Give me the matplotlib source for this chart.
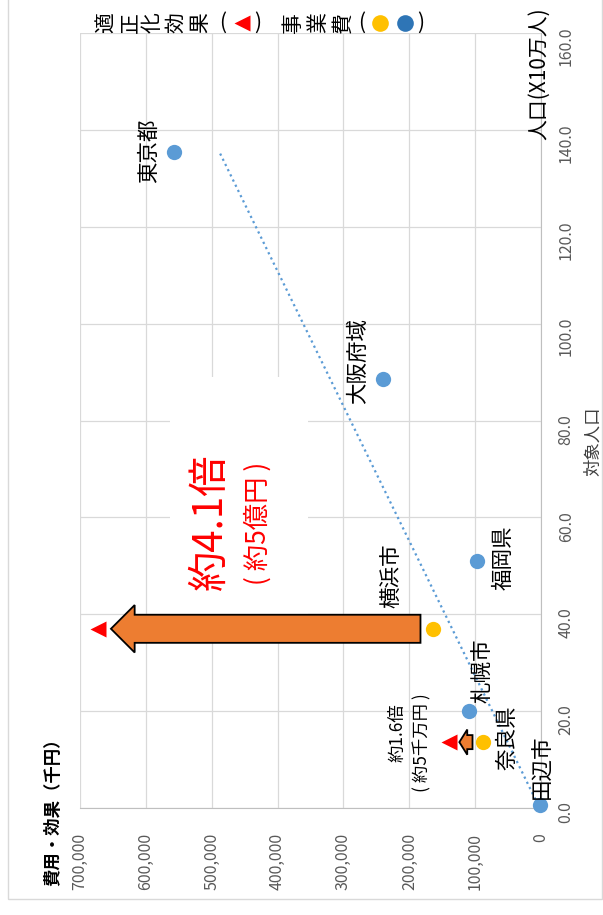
import numpy as np
import matplotlib.pyplot as plt
from matplotlib.patches import FancyArrow, Rectangle
from matplotlib.ticker import FuncFormatter, MultipleLocator

plt.rcParams['font.family'] = ['Noto Sans CJK JP', 'DejaVu Sans']

W, H = 603, 915

# 対象人口(10万人) / 事業費(千円)
blue_names = ['田辺市', '札幌市', '福岡県', '大阪府域', '東京都']
blue_pop = [0.7, 20.0, 51.0, 88.5, 135.5]
blue_cost = [2000, 110000, 97000, 240000, 557000]

yellow_names = ['奈良県', '横浜市']
yellow_pop = [13.6, 37.0]
yellow_cost = [88000, 164000]

# 適正化効果(千円)
effect = [140000, 672000]
ratio_text = ['約1.6倍', '約4.1倍']
saving_text = ['( 約5千万円 )', '( 約5億円 )']

# ラベル位置 (点からのピクセルずれ)
label_offset = {
    '田辺市': (3, 38), '札幌市': (15, 40), '福岡県': (26, 3),
    '大阪府域': (-25, 18), '東京都': (-25, 1),
    '奈良県': (24, 4), '横浜市': (-41, 53),
}


def fx(x):
    return x / W


def fy(y):
    return 1 - y / H


fig = plt.figure(figsize=(W / 100, H / 100), dpi=100)
ax = fig.add_axes([fx(80), fy(808), fx(541) - fx(80), fy(33) - fy(808)])

ax.set_xlim(700000, 0)
ax.set_ylim(0, 160)
ax.xaxis.set_major_locator(MultipleLocator(100000))
ax.yaxis.set_major_locator(MultipleLocator(20))
ax.xaxis.set_major_formatter(FuncFormatter(lambda v, p: f'{v:,.0f}'))
ax.yaxis.set_major_formatter(FuncFormatter(lambda v, p: f'{v:.1f}'))
ax.yaxis.tick_right()
ax.set_axisbelow(True)
ax.grid(True, color='#D9D9D9', lw=0.9)
for s in ['left', 'top']:
    ax.spines[s].set_visible(False)
ax.spines['right'].set_color('#BFBFBF')
ax.spines['bottom'].set_color('#BFBFBF')
ax.tick_params(axis='x', length=0, pad=18, labelrotation=90, labelsize=11.5, labelcolor='#595959')
ax.tick_params(axis='y', length=0, pad=12, labelrotation=90, labelsize=11.5, labelcolor='#595959')

# 近似直線
all_pop = np.array(blue_pop + yellow_pop)
all_cost = np.array(blue_cost + yellow_cost)
k, b = np.polyfit(all_pop, all_cost, 1)
tp = np.array([all_pop.min(), all_pop.max()])
ax.plot(k * tp + b, tp, color='#5B9BD5', lw=1.6, ls=(0, (1, 1.6)), zorder=2)

# 文字の背景
ax.add_patch(Rectangle((fx(170), fy(617)), fx(308) - fx(170), fy(377) - fy(617),
                       transform=fig.transFigure, fc='white', ec='none', zorder=1))

ax.plot(blue_cost, blue_pop, 'o', color='#5B9BD5', ms=11, mec='none', zorder=4, clip_on=False)
ax.plot(yellow_cost, yellow_pop, 'o', color='#FFC000', ms=11, mec='none', zorder=4, clip_on=False)
ax.plot(effect, yellow_pop, '<', color='#FF0000', ms=12, mec='none', zorder=4, clip_on=False)

for names, xs, ys in [(blue_names, blue_cost, blue_pop), (yellow_names, yellow_cost, yellow_pop)]:
    for n, x, y in zip(names, xs, ys):
        ax.annotate(n, (x, y), xytext=label_offset[n], textcoords='offset pixels',
                    rotation=90, ha='center', va='center', fontsize=15.5, zorder=5,
                    annotation_clip=False)

# 矢印 (事業費 → 効果)
arrow_specs = [
    dict(gap=16000, width=2.9, head_width=5.2, head_length=12000),
    dict(gap=19000, width=5.8, head_width=9.8, head_length=36000),
]
for c, e, y, spec in zip(yellow_cost, effect, yellow_pop, arrow_specs):
    tail = c + spec['gap']
    tip = e - spec['gap']
    ax.add_patch(FancyArrow(tail, y, tip - tail, 0, width=spec['width'],
                            head_width=spec['head_width'], head_length=spec['head_length'],
                            length_includes_head=True, fc='#ED7D31', ec='black',
                            lw=1.3, zorder=3))

fig.text(fx(397), fy(733), ratio_text[0], rotation=90, ha='center', va='center', fontsize=12.5)
fig.text(fx(422), fy(743), saving_text[0], rotation=90, ha='center', va='center', fontsize=12.5)
fig.text(fx(210), fy(523), ratio_text[1], rotation=90, ha='center', va='center',
         fontsize=29, color='#FF0000')
fig.text(fx(258), fy(523), saving_text[1], rotation=90, ha='center', va='center',
         fontsize=19, color='#FF0000')

# 軸タイトル
fig.text(fx(53), fy(808), '費用・効果（千円）', rotation=90, ha='center', va='center',
         fontsize=12.5, fontweight='bold')
fig.text(fx(593), fy(441), '対象人口', rotation=90, ha='center', va='center',
         fontsize=12.5, color='#404040')
fig.text(fx(539), fy(140), '人口(X10万人)', rotation=90, ha='center', va='bottom', fontsize=15)

# 凡例(縦書き)
for ch, x in zip('適正化効果', [106, 130, 153, 176, 200]):
    fig.text(fx(x), fy(23), ch, rotation=90, ha='center', va='center', fontsize=15)
for ch, x in zip('事業費', [293, 318, 343]):
    fig.text(fx(x), fy(23), ch, rotation=90, ha='center', va='center', fontsize=15)
for ch, x in [('(', 223), (')', 258), ('(', 362), (')', 421)]:
    fig.text(fx(x), fy(23), ch, ha='center', va='center', fontsize=15)
fig.lines.append(plt.Line2D([fx(242)], [fy(23)], marker='<', color='#FF0000', ms=12,
                            mec='none', transform=fig.transFigure))
fig.lines.append(plt.Line2D([fx(380)], [fy(23)], marker='o', color='#FFC000', ms=12,
                            mec='none', transform=fig.transFigure))
fig.lines.append(plt.Line2D([fx(405)], [fy(23)], marker='o', color='#2E75B6', ms=12,
                            mec='none', transform=fig.transFigure))

# 外枠
fig.patches.append(Rectangle((fx(8), fy(899)), fx(602) - fx(8), fy(-5) - fy(899),
                             transform=fig.transFigure, fill=False, ec='#D9D9D9', lw=1))

fig.savefig('out.png', dpi=100)
